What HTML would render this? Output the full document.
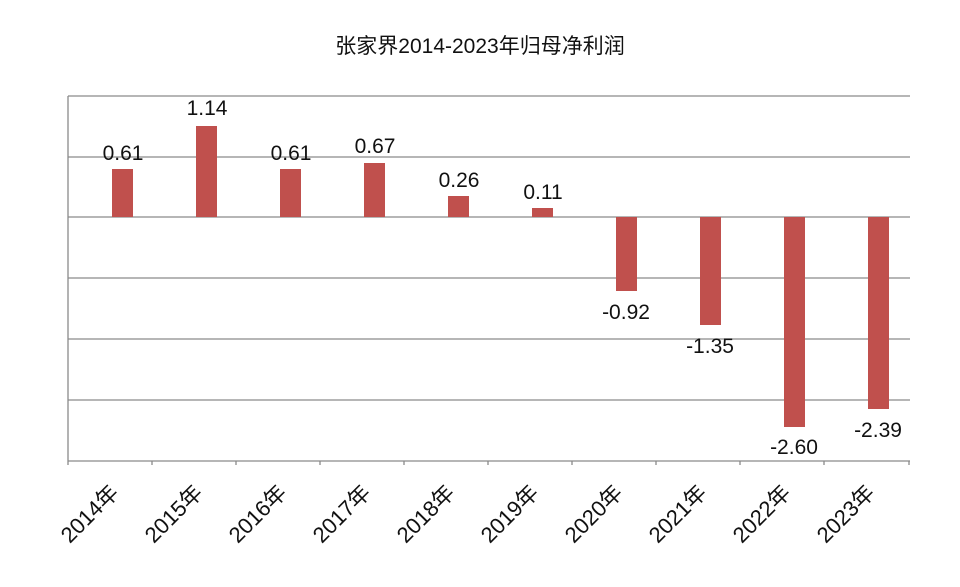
<!DOCTYPE html>
<html><head><meta charset="utf-8"><style>
body{margin:0;background:#fff;}
svg{display:block;font-family:"Liberation Sans","Noto Sans CJK SC",sans-serif;}
</style></head><body>
<svg width="960" height="587" viewBox="0 0 960 587" xmlns="http://www.w3.org/2000/svg">
<rect width="960" height="587" fill="#fff"/>
<text x="480" y="53" text-anchor="middle" font-size="21" fill="#111">张家界2014-2023年归母净利润</text>
<g stroke="#8a8a8a" stroke-width="1.3">
<line x1="68" y1="96" x2="910" y2="96"/>
<line x1="68" y1="157" x2="910" y2="157"/>
<line x1="68" y1="217" x2="910" y2="217"/>
<line x1="68" y1="278" x2="910" y2="278"/>
<line x1="68" y1="339" x2="910" y2="339"/>
<line x1="68" y1="400" x2="910" y2="400"/>
<line x1="68" y1="461" x2="910" y2="461"/>
<line x1="68" y1="96" x2="68" y2="465"/>
<line x1="152" y1="461" x2="152" y2="465"/><line x1="236" y1="461" x2="236" y2="465"/><line x1="320" y1="461" x2="320" y2="465"/><line x1="404" y1="461" x2="404" y2="465"/><line x1="488" y1="461" x2="488" y2="465"/><line x1="572" y1="461" x2="572" y2="465"/><line x1="656" y1="461" x2="656" y2="465"/><line x1="740" y1="461" x2="740" y2="465"/><line x1="824" y1="461" x2="824" y2="465"/><line x1="909" y1="461" x2="909" y2="465"/>
</g>
<g fill="#c0504d">
<rect x="112" y="169" width="21" height="48"/>
<rect x="196" y="126" width="21" height="91"/>
<rect x="280" y="169" width="21" height="48"/>
<rect x="364" y="163" width="21" height="54"/>
<rect x="448" y="196" width="21" height="21"/>
<rect x="532" y="208" width="21" height="9"/>
<rect x="616" y="217" width="21" height="74"/>
<rect x="700" y="217" width="21" height="108"/>
<rect x="784" y="217" width="21" height="210"/>
<rect x="868" y="217" width="21" height="192"/>
</g>
<g font-size="21" fill="#111" text-anchor="middle">
<text x="123" y="160">0.61</text>
<text x="207" y="115">1.14</text>
<text x="291" y="160">0.61</text>
<text x="375" y="153">0.67</text>
<text x="459" y="187">0.26</text>
<text x="543" y="199">0.11</text>
<text x="626" y="319">-0.92</text>
<text x="710" y="353">-1.35</text>
<text x="794" y="454">-2.60</text>
<text x="878" y="437">-2.39</text>
</g>
<g font-size="22" fill="#111" text-anchor="end">
<text transform="translate(120,494) rotate(-45)">2014年</text>
<text transform="translate(204,494) rotate(-45)">2015年</text>
<text transform="translate(288,494) rotate(-45)">2016年</text>
<text transform="translate(372,494) rotate(-45)">2017年</text>
<text transform="translate(456,494) rotate(-45)">2018年</text>
<text transform="translate(540,494) rotate(-45)">2019年</text>
<text transform="translate(624,494) rotate(-45)">2020年</text>
<text transform="translate(708,494) rotate(-45)">2021年</text>
<text transform="translate(792,494) rotate(-45)">2022年</text>
<text transform="translate(876,494) rotate(-45)">2023年</text>
</g>
</svg>
</body></html>
